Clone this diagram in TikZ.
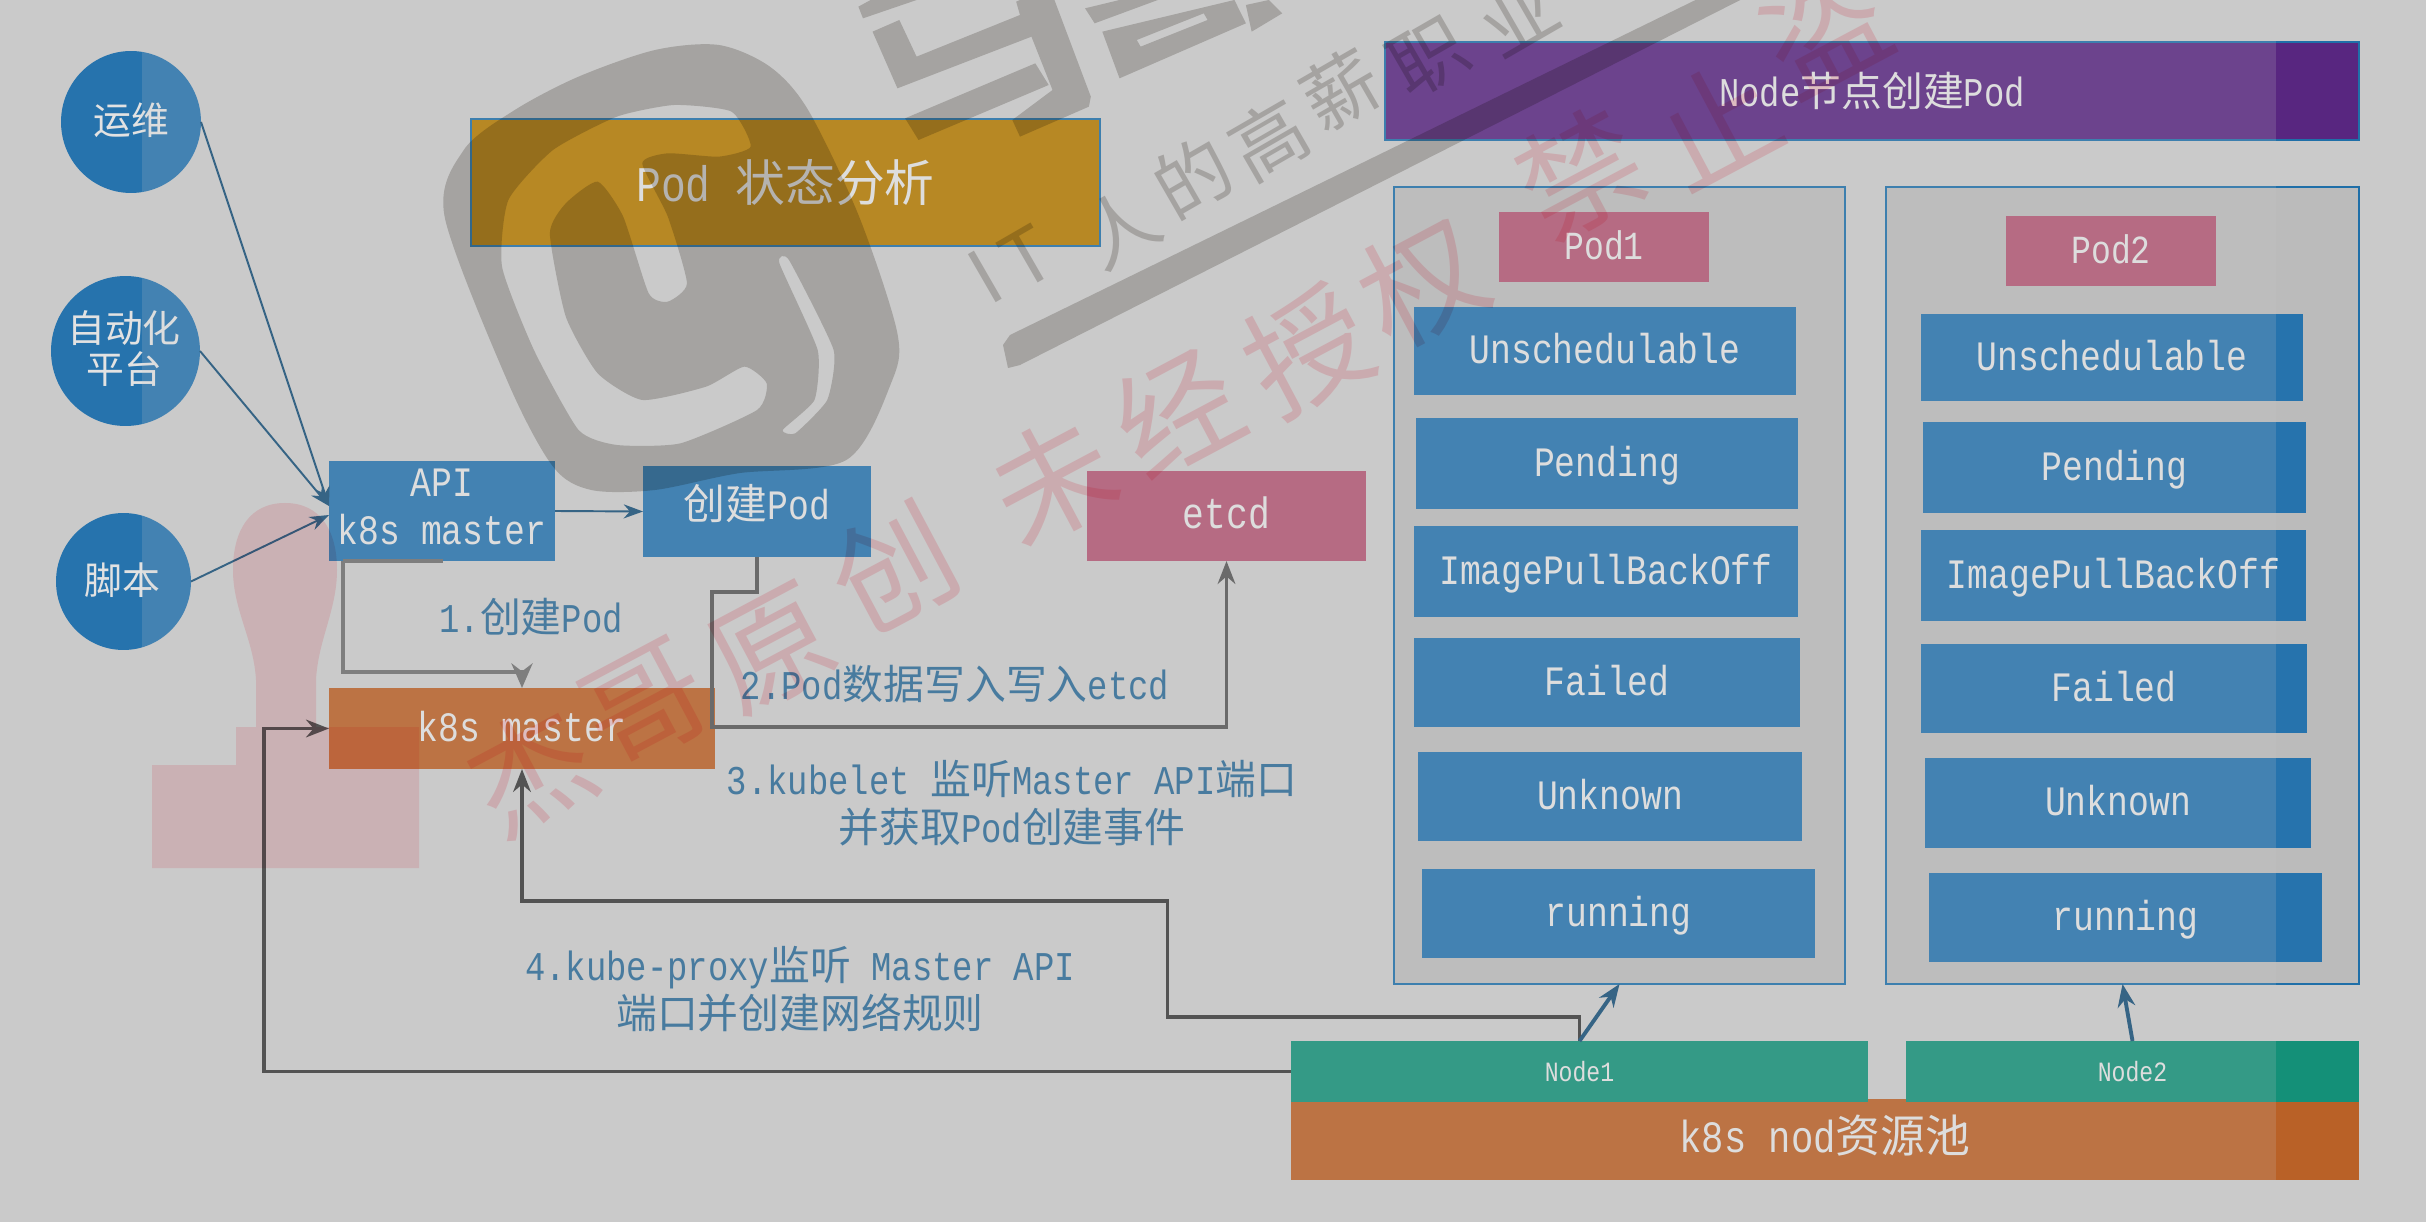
\documentclass[tikz,border=0pt]{standalone}
\usepackage{fontspec}
\setmainfont[FakeStretch=0.83]{Liberation Mono}
\newfontfamily\cjkf{Noto Sans CJK SC}
\usetikzlibrary{arrows.meta,shapes.geometric,calc}
\newcommand\zh[1]{{\cjkf #1}}
\newcommand\fpx[1]{\pgfmathparse{#1*0.5669}\edef\fpxa{\pgfmathresult}\pgfmathparse{#1*0.5669*1.13}\edef\fpxb{\pgfmathresult}\fontsize{\fpxa}{\fpxb}\selectfont}
\definecolor{pagebg}{HTML}{CACACA}
\definecolor{bluebase}{HTML}{2673AD}
\definecolor{linebl}{HTML}{1F6FA8}
\definecolor{purplebase}{HTML}{582680}
\definecolor{orangebase}{HTML}{B96127}
\definecolor{greenbase}{HTML}{149078}
\definecolor{pinkbase}{HTML}{B25774}
\definecolor{yellowbase}{HTML}{B47A00}
\definecolor{panelbase}{HTML}{BBBBBB}
\definecolor{labelcol}{HTML}{2C6A96}
\definecolor{darkline}{HTML}{3A3A3A}
\definecolor{midline}{HTML}{555555}
\definecolor{lightline}{HTML}{6E6E6E}
\definecolor{boxtext}{HTML}{E2E2E2}
\definecolor{wmgray}{rgb}{0.82,0.81,0.80}
\definecolor{wmpink}{rgb}{1,0.85,0.87}
\tikzset{
  bxnode/.style={inner sep=0pt,outer sep=0pt,align=center,text=boxtext},
  evenline/.style={text height=18pt,text depth=3.6pt},
  statusbox/.style={bxnode,evenline,fill=bluebase,font=\fpx{42}},
  apibox/.style={bxnode,fill=bluebase,font=\fpx{42}},
  pinkbox/.style={bxnode,evenline,fill=pinkbase,font=\fpx{40}},
  titlebox/.style={bxnode,fill=purplebase,draw=linebl,line width=1.2pt,font=\fpx{41}},
  yellowbox/.style={bxnode,fill=yellowbase,draw=linebl,line width=1.2pt,font=\fpx{50}},
  orangebox/.style={bxnode,evenline,fill=orangebase,font=\fpx{42}},
  greenbox/.style={bxnode,fill=greenbase,font=\fpx{28}},
  panelbox/.style={inner sep=0pt,outer sep=0pt,fill=panelbase,draw=linebl,line width=1pt},
  roundnode/.style={ellipse,inner sep=0pt,outer sep=0pt,fill=bluebase},
  roundtext/.style={inner sep=0pt,align=center,text=boxtext,font=\fpx{38}},
  steplabel/.style={inner sep=0pt,align=center,text=labelcol,font=\fpx{41}},
  thinarrow/.style={draw=linebl!70!black,line width=1.1pt,-{Stealth[length=11pt,width=8pt]}},
  nodearrow/.style={draw=linebl!70!black,line width=2.2pt,-{Stealth[length=13pt,width=10pt]}},
  darkarrow/.style={draw=darkline,line width=2.2pt,-{Stealth[length=13pt,width=10pt]}},
  midlink/.style={draw=midline,line width=2.2pt,-{Stealth[length=13pt,width=10pt]}},
  lightarrow/.style={draw=lightline,line width=2.2pt,-{Stealth[length=14pt,width=12pt]}},
  wmpinktext/.style={inner sep=0pt,rotate=28,text=wmpink,font=\fpx{122}\cjkf},
  wmgraytext/.style={inner sep=0pt,rotate=30,text=wmgray,font=\fpx{76}\cjkf}
}
% \bx{style}{name}{x1}{y1}{x2}{y2}{text}
\newcommand\bx[7]{%
  \pgfmathsetmacro\bxw{(#5-#3)*0.02}\pgfmathsetmacro\bxh{(#6-#4)*0.02}%
  \pgfmathsetmacro\bxx{(#3+#5)/2}\pgfmathsetmacro\bxy{(#4+#6)/2}%
  \node[#1,minimum width=\bxw cm,minimum height=\bxh cm] (#2) at (\bxx,\bxy) {#7};}
\begin{document}
\begin{tikzpicture}[x=0.02cm,y=-0.02cm]
\useasboundingbox (0,0) rectangle (2426,1222);
\clip (0,0) rectangle (2426,1222);
\fill[pagebg] (0,0) rectangle (2426,1222);

% round sources
\node[roundnode,minimum width=2.8cm,minimum height=2.84cm] (ops) at (131,122) {};
\node[roundtext] (opstext) at (131,120) {\zh{运维}};
\node[roundnode,minimum width=2.98cm,minimum height=3cm] (auto) at (125.5,351) {};
\node[roundtext] (autotext) at (124,349) {\zh{自动化}\\[-1pt]\zh{平台}};
\node[roundnode,minimum width=2.7cm,minimum height=2.74cm] (script) at (123.5,581.5) {};
\node[roundtext] (scripttext) at (122,580) {\zh{脚本}};

% title
\bx{yellowbox}{title}{471}{119}{1100}{246}{Pod \zh{状态分析}}

% left flow
\bx{apibox}{api}{329}{461}{555}{561}{\raisebox{1.5pt}{\begin{tabular}{@{}c@{}}API\\k8s master\end{tabular}}}
\bx{statusbox}{create}{643}{466}{871}{557}{\raisebox{2.6pt}{\zh{创建}Pod}}
\bx{pinkbox,font=\fpx{44}}{etcd}{1087}{471}{1366}{561}{etcd}
\bx{orangebox}{master}{329}{688}{715}{769}{k8s master}

% right header and panels
\bx{titlebox}{nodetitle}{1385}{42}{2359}{140}{Node\zh{节点创建}Pod}
\bx{panelbox}{panelone}{1394}{187}{1845}{984}{}
\bx{panelbox}{paneltwo}{1886}{187}{2359}{984}{}

\bx{pinkbox}{podone}{1499}{212}{1709}{282}{Pod1}
\bx{statusbox}{ua}{1414}{307}{1796}{395}{Unschedulable}
\bx{statusbox}{pa}{1416}{418}{1798}{509}{Pending}
\bx{statusbox}{ia}{1414}{526}{1798}{617}{ImagePullBackOff}
\bx{statusbox}{fa}{1414}{638}{1800}{727}{Failed}
\bx{statusbox}{ka}{1418}{752}{1802}{841}{Unknown}
\bx{statusbox}{ra}{1422}{869}{1815}{958}{running}

\bx{pinkbox}{podtwo}{2006}{216}{2216}{286}{Pod2}
\bx{statusbox}{ub}{1921}{314}{2303}{401}{Unschedulable}
\bx{statusbox}{pb}{1923}{422}{2306}{513}{Pending}
\bx{statusbox}{ib}{1921}{530}{2306}{621}{ImagePullBackOff}
\bx{statusbox}{fb}{1921}{644}{2307}{733}{Failed}
\bx{statusbox}{kb}{1925}{758}{2311}{848}{Unknown}
\bx{statusbox}{rb}{1929}{873}{2322}{962}{running}

% node pool
\bx{orangebox,font=\fpx{45}}{pool}{1291}{1099}{2359}{1180}{k8s nod\zh{资源池}}
\bx{greenbox}{nodeone}{1291}{1041}{1868}{1102}{Node1}
\bx{greenbox}{nodetwo}{1906}{1041}{2359}{1102}{Node2}

% step labels
\node[steplabel] (s1) at (531,617) {1.\zh{创建}Pod};
\node[steplabel] (s2) at (955,684) {2.Pod\zh{数据写入写入}etcd};
\node[steplabel] (s3) at (1012,803) {3.kubelet \zh{监听}Master API\zh{端口}\\[1pt]\zh{并获取}Pod\zh{创建事件}};
\node[steplabel] (s4) at (800,989) {4.kube-proxy\zh{监听} Master API\\[1pt]\zh{端口并创建网络规则}};

% connectors
\draw[thinarrow] (ops.east) -- ([yshift=0.1cm]api.west);
\draw[thinarrow] (auto.east) -- ([yshift=0.1cm]api.west);
\draw[thinarrow] (script.east) -- ([yshift=-0.08cm]api.west);
\draw[thinarrow] (api.east) -- (create.west);
\draw[lightline,line width=2pt] ([xshift=0.28cm]api.south west) -- ++(100,0);
\draw[lightarrow] ([xshift=0.28cm]api.south west) -- ++(0,111) -| (master.north);
\draw[midlink] (create.south) -- ++(0,35) -- ++(-45,0) -- ++(0,135) -| (etcd.south);
\draw[darkarrow] (nodeone.north) -- ++(0,-24) -- ++(-412,0) -- ++(0,-116) -| (master.south);
\draw[darkarrow] (nodeone.west) -- ++(-1027,0) |- (master.west);
\draw[nodearrow] (nodeone.north) -- (panelone.south);
\draw[nodearrow] (nodetwo.north) -- (paneltwo.south);

% the lighter veil over everything between x=142 and x=2276
\fill[pagebg,opacity=0.18] (142,0) rectangle (2276,1222);

% watermarks
\begin{scope}[blend mode=multiply]
  % stamp
  \fill[wmpink!80!white] (285,503) .. controls (320,503) and (337,530) .. (337,570)
     .. controls (337,610) and (318,640) .. (316,680) -- (316,727) -- (419,727) -- (419,868) -- (152,868) -- (152,765) -- (236,765) -- (236,727) -- (256,727)
     -- (256,680) .. controls (254,640) and (233,610) .. (233,570) .. controls (233,530) and (250,503) .. (285,503) -- cycle;
  % pink text
  \foreach \ch/\px/\py in {杰/530/770,哥/646/705,原/772/650,创/893/568,未/1052/480,经/1177/412,授/1308/350,权/1423/282,禁/1580/173,止/1716/123,盗/1825/30}
    \node[wmpinktext,name=wp\px] at (\px,\py) {\ch};
  % logo, in the coordinates of the crop that was measured
  \begin{scope}[shift={(400,0)},x=0.012755cm,y=-0.006667cm]
    \fill[wmgray,even odd rule]
      plot[smooth cycle,tension=0.5] coordinates {(400,150)(500,135)(580,200)(640,330)(720,650)(780,1000)(770,1150)(700,1380)(530,1420)(400,1470)(300,1470)(240,1400)(170,1150)(70,650)(100,450)(180,330)(280,230)}
      plot[smooth cycle,tension=0.35] coordinates {(430,315)(520,335)(550,440)(500,470)(420,460)(380,490)(420,650)(450,850)(420,905)(390,880)(350,650)(310,545)(260,610)(235,700)(260,950)(310,1120)(380,1200)(480,1160)(540,1100)(575,1150)(560,1230)(440,1330)(340,1335)(280,1290)(210,1050)(160,800)(170,600)(240,450)(340,350)}
      plot[smooth cycle,tension=0.3] coordinates {(610,780)(680,1050)(670,1200)(620,1300)(600,1290)(650,1200)(655,1050)(595,790)};
  \end{scope}
  \begin{scope}[shift={(840,0)},x=0.007654cm,y=-0.006667cm]
    \fill[wmgray] (48,20) -- (80,0) -- (200,0) -- (60,55) -- cycle;
    \fill[wmgray] (85,95) -- (155,60) -- (200,170) -- (470,45) -- (460,5) -- (470,0) -- (560,0) -- (655,290) -- (650,320) -- (470,410) -- (450,360) -- (555,270) -- (500,110) -- (150,265) -- cycle;
    \fill[wmgray] (170,355) -- (510,190) -- (545,255) -- (205,420) -- cycle;
    \fill[wmgray] (640,25) -- (730,0) -- (830,0) -- (665,70) -- cycle;
    \fill[wmgray,even odd rule] (685,95) -- (1030,0) -- (1060,70) -- (730,235) -- cycle (775,120) -- (950,40) -- (960,60) -- (785,140) -- cycle;
    \fill[wmgray] (1060,15) -- (1120,0) -- (1155,40) -- (1075,95) -- cycle;
  \end{scope}
  \fill[wmgray] (1003,345) -- (1010,335) -- (1716,-10) -- (1760,-10) -- (1020,365) -- (1008,368) -- cycle;
  \foreach \ch/\px/\py in {I/985/277,T/1027/257,人/1120/228,的/1192/177,高/1269/140,薪/1341/90,职/1429/57,业/1518/15}
    \node[wmgraytext,name=wg\px] at (\px,\py) {\ch};
\end{scope}
\end{tikzpicture}
\end{document}
